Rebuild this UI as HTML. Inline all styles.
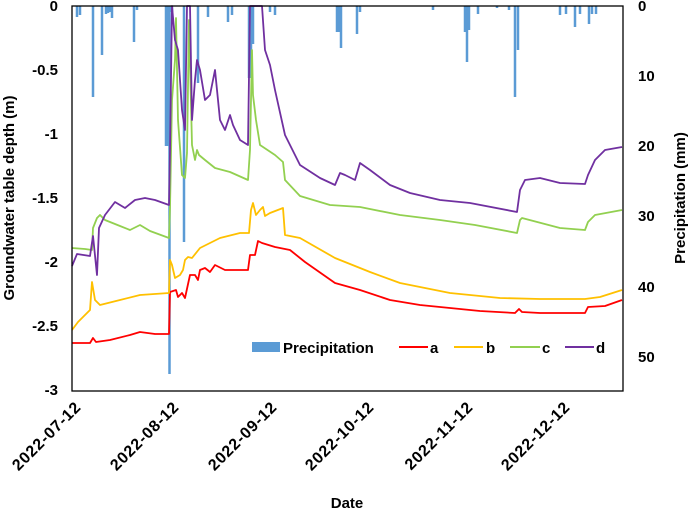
<!DOCTYPE html>
<html><head><meta charset="utf-8"><style>
body{margin:0;background:#fff}
text{font-family:"Liberation Sans",sans-serif;font-weight:bold;fill:#000}
</style></head><body>
<svg width="690" height="510" xmlns="http://www.w3.org/2000/svg">
<g stroke="#5b9bd5" stroke-width="2.5" fill="none">
<path d="M77 6V17M80 6V15M93 6V97M102 6V55M106 6V14M108 6V13M110 6V12M112 6V18M134 6V42M137 6V10M166 6V146M168 6V146M169.5 6V374M172 6V12M184 6V242M198 6V83M208 6V17M228 6V22M232 6V15M249 6V78M251 6V78M253 6V44M270 6V12M275 6V15M337 6V32M339 6V32M341 6V48M357 6V34M360 6V12M433 6V10M465 6V32M467 6V62M469 6V30M478 6V14M497 6V8M509 6V10M515 6V97M518 6V50M560 6V15M566 6V14M575 6V27M580 6V14M589 6V24M592 6V14M596 6V14"/>
</g>
<g fill="none" stroke-width="1.8" stroke-linejoin="round">
<polyline stroke="#ff0000" points="72,343 90,343 93,338 96,342 110,340 130,335 140,332 155,334 169,334 170,292 176,290 178,297 182,293 185,298 190,275 195,275 198,280 200,270 205,268 210,272 215,265 225,270 248,270 250,255 255,255 258,241 262,243 275,247 290,250 305,262 335,283 360,290 390,300 420,305 450,308 480,311 515,313 519,309 522,312 540,313 585,313 588,307 605,306 622,300"/>
<polyline stroke="#ffc000" points="72,330 78,322 90,310 92,282 95,300 100,305 120,300 140,295 169,293 170,260 172,265 175,278 180,275 183,270 185,260 188,257 192,258 200,248 220,238 240,233 249,233 251,210 253,203 256,215 260,210 263,207 265,216 270,213 283,208 285,235 300,238 335,258 370,272 400,283 450,293 500,298 540,299 585,299 600,297 622,290"/>
<polyline stroke="#92d050" points="72,248 85,249 92,250 93,228 97,218 100,215 105,220 120,226 130,230 140,225 150,231 169,238 170,208 172,100 175,60 176,18 178,120 182,175 185,178 187,153 189,20 192,145 195,160 197,150 199,155 205,160 215,168 230,172 248,180 250,150 252,50 253,95 256,120 260,145 275,155 283,162 285,180 300,196 330,205 360,207 400,215 440,220 475,225 517,233 520,220 522,218 560,228 585,230 588,222 595,215 622,210"/>
<polyline stroke="#7030a0" points="72,266 77,254 90,256 93,236 97,275 99,228 105,215 115,202 125,208 135,200 145,198 155,200 169,205 170,150 172,6 175,40 178,50 182,110 185,130 187,6 190,6 192,120 195,80 197,60 200,70 205,100 210,95 215,70 220,120 225,130 230,115 233,125 240,140 248,145 250,6 253,6 262,6 265,50 270,65 275,90 285,135 300,165 320,178 335,185 340,173 345,175 355,180 360,163 370,170 390,185 410,193 440,200 470,203 517,212 520,190 525,180 540,178 560,183 585,184 588,175 595,160 605,150 622,147"/>
</g>
<rect x="72" y="6" width="551" height="385" fill="none" stroke="#000" stroke-width="1.3"/>
<g font-size="15" text-anchor="end">
<text x="58" y="11">0</text><text x="58" y="75">-0.5</text><text x="58" y="139">-1</text><text x="58" y="203">-1.5</text><text x="58" y="267">-2</text><text x="58" y="331">-2.5</text><text x="58" y="395">-3</text>
</g>
<g font-size="15" text-anchor="start">
<text x="638" y="11">0</text><text x="638" y="81">10</text><text x="638" y="151">20</text><text x="638" y="221">30</text><text x="638" y="292">40</text><text x="638" y="362">50</text>
</g>
<g font-size="16" text-anchor="end" letter-spacing="0.8">
<text transform="translate(82,408) rotate(-45)">2022-07-12</text>
<text transform="translate(180,408) rotate(-45)">2022-08-12</text>
<text transform="translate(278,408) rotate(-45)">2022-09-12</text>
<text transform="translate(375,408) rotate(-45)">2022-10-12</text>
<text transform="translate(474,408) rotate(-45)">2022-11-12</text>
<text transform="translate(571,408) rotate(-45)">2022-12-12</text>
</g>
<text x="347" y="508" font-size="15" text-anchor="middle">Date</text>
<text transform="translate(14,198) rotate(-90)" font-size="15" text-anchor="middle">Groundwater table depth (m)</text>
<text transform="translate(685,198) rotate(-90)" font-size="15" text-anchor="middle">Precipitation (mm)</text>
<rect x="252" y="342" width="28" height="10" fill="#5b9bd5"/>
<text x="283" y="353" font-size="15">Precipitation</text>
<line x1="399" y1="347" x2="428" y2="347" stroke="#ff0000" stroke-width="2"/><text x="430" y="353" font-size="15">a</text>
<line x1="454" y1="347" x2="483" y2="347" stroke="#ffc000" stroke-width="2"/><text x="486" y="353" font-size="15">b</text>
<line x1="510" y1="347" x2="540" y2="347" stroke="#92d050" stroke-width="2"/><text x="542" y="353" font-size="15">c</text>
<line x1="565" y1="347" x2="594" y2="347" stroke="#7030a0" stroke-width="2"/><text x="596" y="353" font-size="15">d</text>
</svg>
</body></html>
